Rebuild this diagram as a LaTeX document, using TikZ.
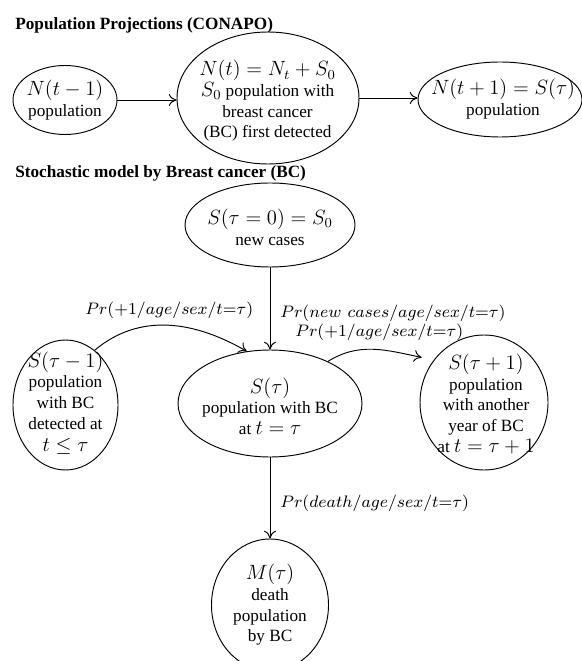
\documentclass[tikz,border=0pt]{standalone}
\usepackage{fontspec}
\setmainfont{Liberation Serif}
\usetikzlibrary{shapes.geometric,arrows.meta}
\newcommand{\mth}[1]{{\fontsize{12}{14}\selectfont$#1$}}
\newcommand{\plab}[1]{\scalebox{1.21}{\mth{\scriptstyle #1}}}
\begin{document}
\begin{tikzpicture}[x=0.5814pt,y=-0.5814pt,
  ell/.style={draw,ellipse,line width=0.55pt,inner sep=0pt},
  txt/.style={inner sep=0pt,align=center,font=\fontsize{10}{12}\selectfont},
  lab/.style={inner sep=0pt,anchor=west},
  head/.style={inner sep=0pt,anchor=base west,font=\fontsize{10}{12}\selectfont\bfseries},
  arr/.style={-{To[length=4.5pt,width=7pt]},line width=0.55pt}]
\useasboundingbox (0,0) rectangle (582,661);
\clip (0,0) rectangle (582,661);
% headings
\node[head] (h1) at (15,30) {Population Projections (CONAPO)};
\node[head] (h2) at (15,178) {Stochastic model by Breast cancer (BC)};
% top row
\node[ell,minimum width=104*0.5814pt,minimum height=69*0.5814pt] (n1) at (65,100) {};
\node[ell,minimum width=182*0.5814pt,minimum height=132*0.5814pt] (n2) at (268,98) {};
\node[ell,minimum width=164*0.5814pt,minimum height=75*0.5814pt] (n3) at (500,99.5) {};
\node[txt] (n1t) at (65,100) {\mth{N(t-1)}\\population};
\node[txt] (n2t) at (267.5,101) {\mth{N(t)=N_t+S_0}\\\mth{S_0} population with\\breast cancer\\(BC) first detected};
\node[txt] (n3t) at (503,99) {\mth{N(t+1)=S(\tau)}\\population};
\draw[arr] (n1.east) -- (n1.east -| n2.west);
\draw[arr] (n2.east) -- (n2.east -| n3.west);
% stochastic model
\node[ell,minimum width=170*0.5814pt,minimum height=84*0.5814pt] (s0) at (270,225) {};
\node[ell,minimum width=184*0.5814pt,minimum height=107*0.5814pt] (s) at (270,403.5) {};
\node[ell,minimum width=105*0.5814pt,minimum height=130*0.5814pt] (sm) at (65.5,405) {};
\node[ell,minimum width=128*0.5814pt,minimum height=135*0.5814pt] (sp) at (484,402.5) {};
\node[ell,minimum width=117*0.5814pt,minimum height=132*0.5814pt] (m) at (270,605) {};
\node[txt] (s0t) at (270,227.5) {\mth{S(\tau=0)=S_0}\\new cases};
\node[txt] (st) at (270,406) {\mth{S(\tau)}\\population with BC\\at \mth{t=\tau}};
\node[txt] (smt) at (65.5,403) {\mth{S(\tau-1)}\\population\\with BC\\detected at\\[1pt]\mth{t\le\tau}};
\node[txt] (spt) at (486,404) {\mth{S(\tau+1)}\\population\\with another\\year of BC\\at \mth{t=\tau+1}};
\node[txt] (mt) at (270,605) {\mth{M(\tau)}\\death\\population\\by BC};
% connectors
\draw[arr] (s0.south) -- (s.north);
\draw[arr] (s.south) -- (m.north);
\draw[arr] (sm.62) to[out=40,in=150] (s.114);
\draw[arr] (s.36) to[out=32,in=168] ([xshift=-14*0.5814pt]sp.137);
% labels
\node[lab] (l1) at (85,310) {\plab{Pr(+1/age/sex/t=\tau)}};
\node[lab] (l2) at (280,313) {\plab{Pr(new\ cases/age/sex/t=\tau)}};
\node[lab] (l3) at (295,332) {\plab{Pr(+1/age/sex/t=\tau)}};
\node[lab] (l4) at (280,503) {\plab{Pr(death/age/sex/t=\tau)}};
\end{tikzpicture}
\end{document}
